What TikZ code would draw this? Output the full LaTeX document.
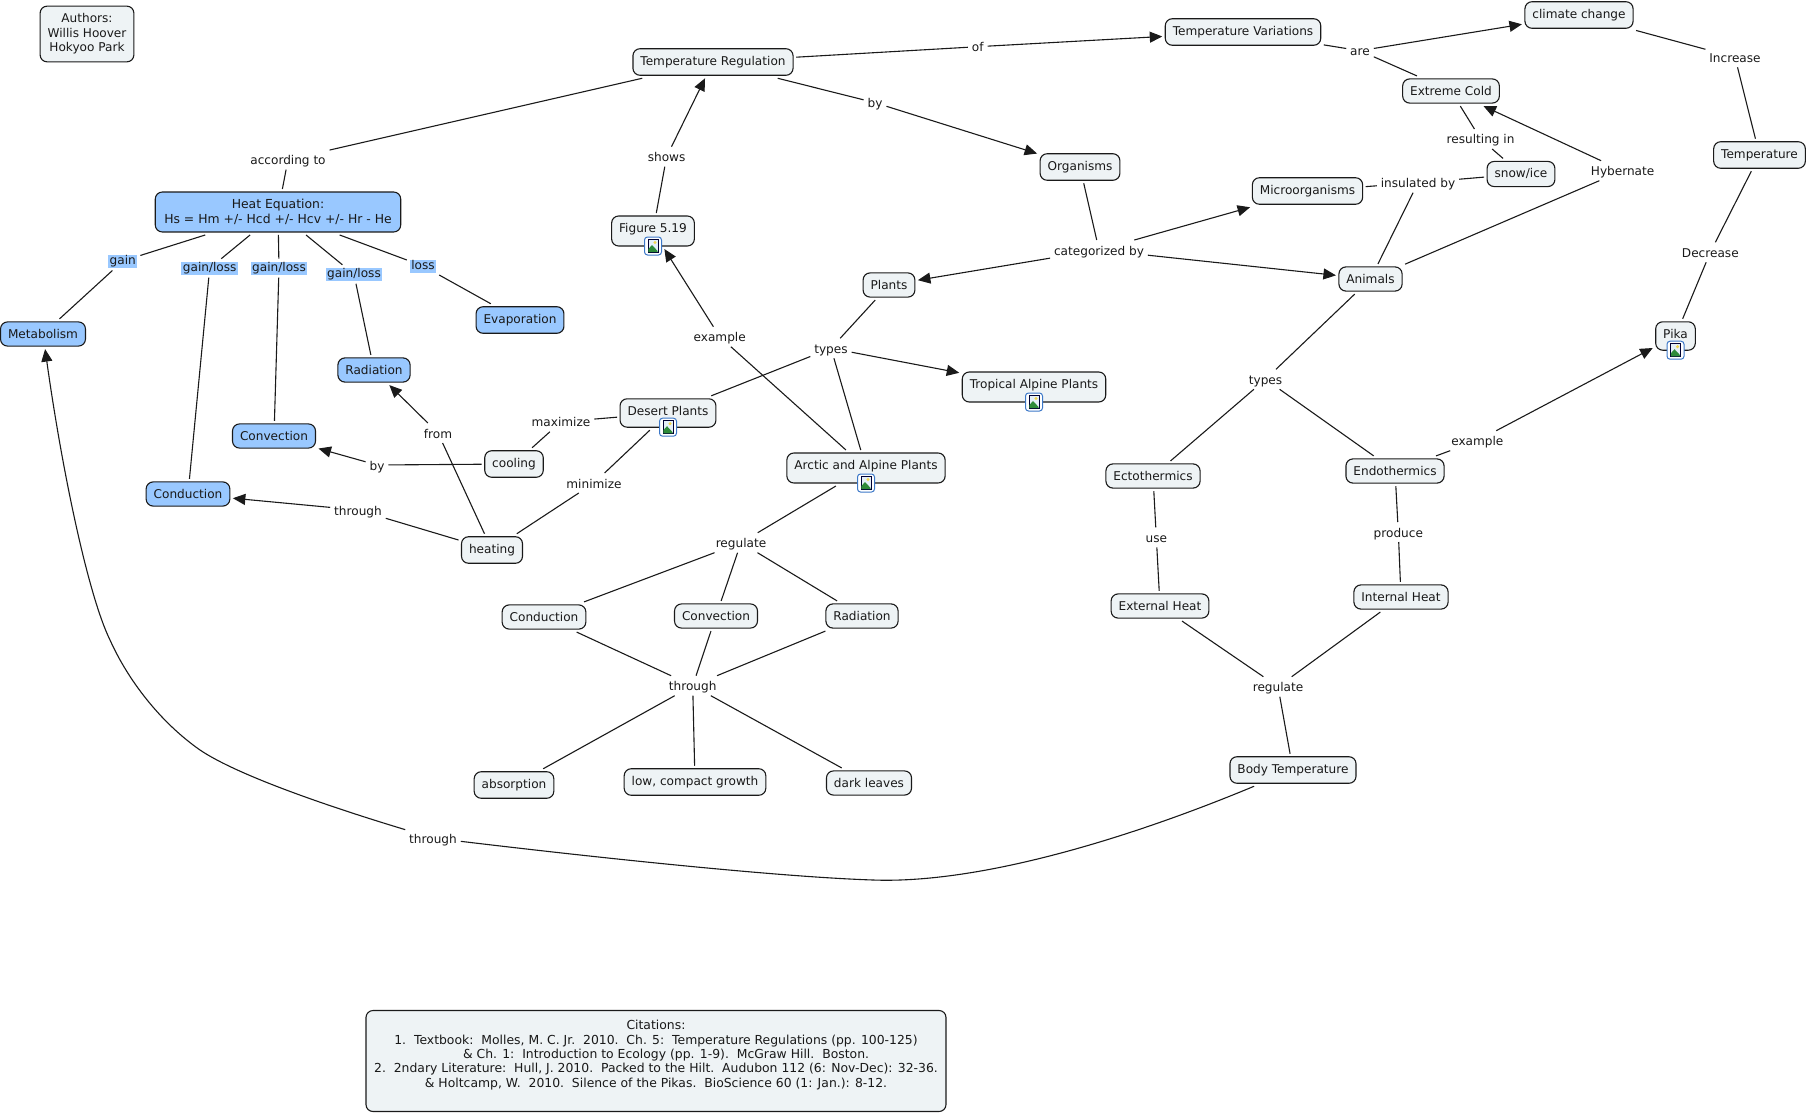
\documentclass[tikz,border=0pt]{standalone}
\usepackage{fontspec}
\setmainfont{DejaVu Sans}
\usepackage{xcolor}
\usetikzlibrary{arrows.meta}
\usetikzlibrary{positioning}
\definecolor{paleblue}{HTML}{EEF3F5}
\definecolor{heatblue}{HTML}{99C8FF}
\definecolor{inkline}{HTML}{1A1A1A}
\definecolor{iconrim}{HTML}{3C78C8}
\definecolor{iconhill}{HTML}{2E8B3A}
\definecolor{iconsky}{HTML}{E4EFF8}
\definecolor{iconsun}{HTML}{F2D64B}
\newcommand{\mapicon}[1]{%
  \node[iconrim] (#1i) at ([yshift=3pt]#1.south) {};
  \fill[iconsky,draw=black!80!blue,line width=0.8pt] ([shift={(-5,-6.5)}]#1i.center) rectangle ([shift={(5,6.5)}]#1i.center);
  \fill[iconhill] ([shift={(-4.6,6.1)}]#1i.center) -- ([shift={(-4.6,3)}]#1i.center) -- ([shift={(-1,-1)}]#1i.center) -- ([shift={(4.6,5)}]#1i.center) -- ([shift={(4.6,6.1)}]#1i.center) -- cycle;
  \fill[iconsun] ([shift={(2,-3.5)}]#1i.center) circle (1.7);
}

\begin{document}
\begin{tikzpicture}[x=1pt,y=-1pt,line width=1.1pt,inkline]
  \tikzset{conceptbase/.style = {shape=rectangle,draw=inkline,fill=paleblue,text=black!90,rounded corners=7pt,inner xsep=7.5pt,inner ysep=7.5pt,outer sep=3pt,font=\fontsize{12.1}{14.5}\selectfont}}
  \tikzset{concept/.style = {conceptbase,text height=9pt}}
  \tikzset{heatconcept/.style = {concept,fill=heatblue}}
  \tikzset{iconconcept/.style = {concept,text depth=6pt}}
  \tikzset{notebox/.style = {conceptbase,align=center}}
  \tikzset{widetext/.style = {font=\fontsize{12.4}{14.4}\selectfont}}
  \tikzset{linklabel/.style = {shape=rectangle,inner xsep=1pt,inner ysep=1pt,outer sep=3pt,text=black!90,text height=11pt,text depth=1pt,font=\fontsize{12.1}{14.5}\selectfont}}
  \tikzset{heatlabel/.style = {linklabel,fill=heatblue,inner xsep=1.5pt,inner ysep=0.5pt,text height=9.5pt,text depth=2.5pt}}
  \tikzset{iconrim/.style = {shape=rectangle,draw=iconrim,fill=white,rounded corners=3pt,line width=1pt,minimum width=17pt,minimum height=18pt,inner sep=0pt}}
  \tikzset{%
  tipA/.tip={Triangle[length=12.5pt,width=11pt]},
  }
  \useasboundingbox (0,0) rectangle (1807,1113);

  % concepts, left part
  \node[notebox] (authors) at (87,34) {Authors:\\Willis Hoover\\Hokyoo Park};
  \node[notebox,widetext,fill=heatblue,inner xsep=9pt] (heat) at (278,212) {Heat Equation:\\Hs = Hm +/- Hcd +/- Hcv +/- Hr - He};
  \node[heatconcept] (metabolism) at (43,334) {Metabolism};
  \node[heatconcept] (evaporation) at (520,320) {Evaporation};
  \node[heatconcept] (radiation) at (374,370) {Radiation};
  \node[heatconcept] (convection) at (274,436) {Convection};
  \node[heatconcept] (conduction) at (188,494) {Conduction};
  \node[concept] (cooling) at (514,464) {cooling};
  \node[concept] (heating) at (492,550) {heating};

  % concepts, middle
  \node[concept] (tempreg) at (713,62) {Temperature Regulation};
  \node[iconconcept] (figure) at (653,231) {Figure 5.19};
  \node[concept] (organisms) at (1080,167) {Organisms};
  \node[concept] (plants) at (889,285) {Plants};
  \node[iconconcept,text depth=4.4pt] (desert) at (668,413) {Desert Plants};
  \node[iconconcept] (tropical) at (1034,387) {Tropical Alpine Plants};
  \node[iconconcept] (arctic) at (866,468) {Arctic and Alpine Plants};
  \node[concept] (conductionb) at (544,617) {Conduction};
  \node[concept] (convectionb) at (716,616) {Convection};
  \node[concept] (radiationb) at (862,616) {Radiation};
  \node[concept] (absorption) at (514,785) {absorption};
  \node[concept] (compact) at (695,782) {low, compact growth};
  \node[concept] (leaves) at (869,783) {dark leaves};

  % concepts, right part
  \node[concept] (tempvar) at (1243,32) {Temperature Variations};
  \node[concept] (climate) at (1579,15) {climate change};
  \node[concept] (cold) at (1451,91) {Extreme Cold};
  \node[concept] (temperature) at (1759.5,155) {Temperature};
  \node[concept] (snow) at (1521,174) {snow/ice};
  \node[concept] (micro) at (1307.5,191) {Microorganisms};
  \node[concept] (animals) at (1370.5,279) {Animals};
  \node[iconconcept,text depth=4.4pt] (pika) at (1675.5,336) {Pika};
  \node[concept] (ecto) at (1153,476) {Ectothermics};
  \node[concept] (endo) at (1395,471) {Endothermics};
  \node[concept] (external) at (1160,606) {External Heat};
  \node[concept] (internal) at (1401,597) {Internal Heat};
  \node[concept] (bodytemp) at (1293,770) {Body Temperature};

  % citations
  \node[notebox,widetext,minimum width=580pt,minimum height=101pt] (citations) at (656,1061) {Citations:\\
    1.\ \ Textbook:\ \ Molles, M. C. Jr.\ \ 2010.\ \ Ch. 5:\ \ Temperature Regulations (pp. 100-125)\\
    \hspace*{20pt}\& Ch. 1:\ \ Introduction to Ecology (pp. 1-9).\ \ McGraw Hill.\ \ Boston.\\
    2.\ \ 2ndary Literature:\ \ Hull, J. 2010.\ \ Packed to the Hilt.\ \ Audubon 112 (6: Nov-Dec): 32-36.\\
    \& Holtcamp, W.\ \ 2010.\ \ Silence of the Pikas.\ \ BioScience 60 (1: Jan.): 8-12.\\
    \mbox{}};

  % linking phrases
  \node[linklabel] (accord) at (288,159.6) {according to};
  \node[heatlabel] (gain) at (122.8,261) {gain};
  \node[heatlabel] (gla) at (209.7,268.2) {gain/loss};
  \node[heatlabel] (glb) at (279,268.2) {gain/loss};
  \node[heatlabel] (glc) at (354,274.3) {gain/loss};
  \node[heatlabel] (loss) at (423,266) {loss};
  \node[linklabel] (from) at (438,433) {from};
  \node[linklabel] (bycool) at (377,465) {by};
  \node[linklabel] (throughc) at (358,510) {through};
  \node[linklabel] (maximize) at (561,421.8) {maximize};
  \node[linklabel] (minimize) at (594,483) {minimize};
  \node[linklabel] (of) at (977.7,46.7) {of};
  \node[linklabel] (byorg) at (875,102.7) {by};
  \node[linklabel] (shows) at (666.6,156.7) {shows};
  \node[linklabel] (categ) at (1099,250) {categorized by};
  \node[linklabel] (exfig) at (719.7,336.7) {example};
  \node[linklabel] (typesp) at (831,348.3) {types};
  \node[linklabel] (regula) at (741,542.7) {regulate};
  \node[linklabel] (throughm) at (692.7,685.7) {through};
  \node[linklabel] (are) at (1360,50.7) {are};
  \node[linklabel] (increase) at (1735,57.3) {Increase};
  \node[linklabel] (decrease) at (1710.3,252.3) {Decrease};
  \node[linklabel] (resulting) at (1480.6,139) {resulting in};
  \node[linklabel] (insulated) at (1418,182.7) {insulated by};
  \node[linklabel] (hybernate) at (1622.6,170.7) {Hybernate};
  \node[linklabel] (typesa) at (1265.5,379.3) {types};
  \node[linklabel] (expika) at (1477.3,440.7) {example};
  \node[linklabel] (use) at (1156.3,537.3) {use};
  \node[linklabel] (produce) at (1398.3,532) {produce};
  \node[linklabel] (regulb) at (1278,686.7) {regulate};
  \node[linklabel] (throughb) at (433,838) {through};

  % image icons
  \mapicon{figure}
  \mapicon{desert}
  \mapicon{tropical}
  \mapicon{arctic}
  \mapicon{pika}

  \foreach \from/\to in {tempreg/accord,accord/heat,heat/gain,gain/metabolism,heat/gla,gla/conduction,heat/glb,glb/convection,heat/glc,glc/radiation,heat/loss,loss/evaporation,tempreg/of,tempreg/byorg,figure/shows,organisms/categ,plants/typesp,typesp/desert,typesp/arctic,arctic/exfig,desert/maximize,maximize/cooling,desert/minimize,minimize/heating,cooling/bycool,heating/from,heating/throughc,arctic/regula,regula/conductionb,regula/convectionb,regula/radiationb,conductionb/throughm,convectionb/throughm,radiationb/throughm,throughm/absorption,throughm/compact,throughm/leaves,tempvar/are,are/cold,climate/increase,increase/temperature,temperature/decrease,decrease/pika,cold/resulting,resulting/snow,snow/insulated,insulated/micro,insulated/animals,animals/hybernate,animals/typesa,typesa/ecto,typesa/endo,endo/expika,ecto/use,use/external,endo/produce,produce/internal,external/regulb,internal/regulb,regulb/bodytemp}
    \path (\from) edge (\to);

  \foreach \from/\to in {of/tempvar,byorg/organisms,shows/tempreg,categ/micro,categ/plants,categ/animals,typesp/tropical,exfig/figure,bycool/convection,from/radiation,throughc/conduction,are/climate,hybernate/cold,expika/pika}
    \path[-tipA] (\from) edge (\to);

  % long curve from body temperature round to metabolism
  \coordinate (lowbend) at (873,880);
  \coordinate (leftbend) at (200,750);
  \coordinate (midbend) at (110,640);
  \draw (bodytemp) .. controls (1130,838) and (980,884) .. (lowbend);
  \draw (lowbend) .. controls (780,877) and (600,858) .. (throughb);
  \draw (throughb) .. controls (340,810) and (240,777) .. (leftbend);
  \draw (leftbend) .. controls (160,722) and (128,680) .. (midbend);
  \draw[-tipA] (midbend) .. controls (88,595) and (62,470) .. (metabolism);
\end{tikzpicture}
\end{document}
